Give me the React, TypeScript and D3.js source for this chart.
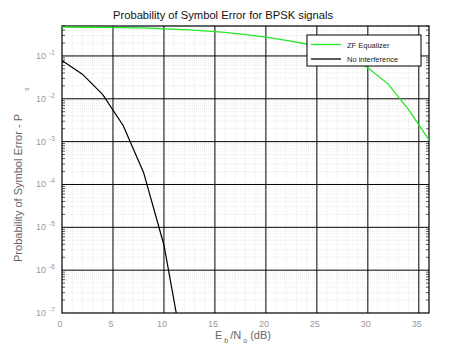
import React, { useRef, useEffect } from 'react';
import * as d3 from 'd3';

// Eb/No in dB, 2 dB steps
const snrZF = [0, 2, 4, 6, 8, 10, 12, 14, 16, 18, 20, 22, 24, 26, 28, 30, 32, 34, 36];
const berZF = [0.47, 0.468, 0.465, 0.46, 0.45, 0.43, 0.41, 0.385, 0.355, 0.315, 0.275, 0.23, 0.19, 0.14, 0.095, 0.053, 0.022, 0.0056, 0.0011];

const snrNoInt = [0, 2, 4, 6, 8, 10, 12];
const berNoInt = [0.0786, 0.0375, 0.0125, 0.00239, 0.000191, 0.00000387, 0.000000009];

const xTicks = [0, 5, 10, 15, 20, 25, 30, 35];
const yExps = [-1, -2, -3, -4, -5, -6, -7];

const legendNames = ['ZF Equalizer', 'No interference'];
const lineColors = ['#22e822', '#000000'];

const App = () => {
  const svgRef = useRef<SVGSVGElement>(null);

  useEffect(() => {
    const svg = d3.select(svgRef.current);
    svg.selectAll('*').remove();

    const margin = { top: 26, right: 44, bottom: 41, left: 62 };
    const width = 473;
    const height = 354;
    const innerWidth = width - margin.left - margin.right;
    const innerHeight = height - margin.top - margin.bottom;
    const font = 'Liberation Sans, Arial, sans-serif';

    const x = d3.scaleLinear().domain([0, 36]).range([0, innerWidth]);
    const y = d3.scaleLog().domain([1e-7, 0.5]).range([innerHeight, 0]);

    svg.append('rect').attr('width', width).attr('height', height).attr('fill', '#fff');

    // title
    svg.append('text')
      .attr('x', 113).attr('y', 19)
      .attr('font-family', font).attr('font-size', 11.2)
      .attr('fill', '#111')
      .text('Probability of Symbol Error for BPSK signals');

    const g = svg.append('g').attr('transform', `translate(${margin.left},${margin.top})`);

    g.append('clipPath').attr('id', 'plotclip')
      .append('rect').attr('width', innerWidth).attr('height', innerHeight);

    // minor grid
    const minorX = d3.range(1, 36).filter(d => d % 5 !== 0);
    g.selectAll('.mx').data(minorX).join('line')
      .attr('x1', d => x(d)).attr('x2', d => x(d))
      .attr('y1', 0).attr('y2', innerHeight)
      .attr('stroke', '#dcdcdc').attr('stroke-width', 0.6).attr('stroke-dasharray', '1,1');

    const minorY: number[] = [];
    for (let e = -7; e <= -1; e++) {
      for (let m = 2; m <= 9; m++) {
        const v = m * Math.pow(10, e);
        if (v <= 0.5) minorY.push(v);
      }
    }
    g.selectAll('.my').data(minorY).join('line')
      .attr('x1', 0).attr('x2', innerWidth)
      .attr('y1', d => y(d)).attr('y2', d => y(d))
      .attr('stroke', '#dcdcdc').attr('stroke-width', 0.6).attr('stroke-dasharray', '1,1');

    // major grid
    g.selectAll('.gx').data(xTicks.filter(d => d > 0)).join('line')
      .attr('x1', d => x(d)).attr('x2', d => x(d))
      .attr('y1', 0).attr('y2', innerHeight)
      .attr('stroke', '#000').attr('stroke-width', 1);
    g.selectAll('.gy').data(yExps.filter(e => e > -7)).join('line')
      .attr('x1', 0).attr('x2', innerWidth)
      .attr('y1', e => y(Math.pow(10, e))).attr('y2', e => y(Math.pow(10, e)))
      .attr('stroke', '#000').attr('stroke-width', 1);

    // minor ticks on left and right edges
    g.selectAll('.tl').data(minorY).join('line')
      .attr('x1', 0).attr('x2', 3)
      .attr('y1', d => y(d)).attr('y2', d => y(d))
      .attr('stroke', '#333').attr('stroke-width', 0.8);
    g.selectAll('.tr').data(minorY).join('line')
      .attr('x1', innerWidth - 3).attr('x2', innerWidth)
      .attr('y1', d => y(d)).attr('y2', d => y(d))
      .attr('stroke', '#333').attr('stroke-width', 0.8);

    // frame
    g.append('rect').attr('width', innerWidth).attr('height', innerHeight)
      .attr('fill', 'none').attr('stroke', '#000').attr('stroke-width', 1.2);

    // curves
    const line = d3.line<[number, number]>()
      .x(d => x(d[0]))
      .y(d => y(d[1]));

    const plot = g.append('g').attr('clip-path', 'url(#plotclip)');
    plot.append('path')
      .datum(snrZF.map((s, i) => [s, berZF[i]] as [number, number]))
      .attr('fill', 'none').attr('stroke', lineColors[0]).attr('stroke-width', 1.3)
      .attr('d', line);
    plot.append('path')
      .datum(snrNoInt.map((s, i) => [s, berNoInt[i]] as [number, number]))
      .attr('fill', 'none').attr('stroke', lineColors[1]).attr('stroke-width', 1.2)
      .attr('d', line);

    // x tick labels
    g.selectAll('.xl').data(xTicks).join('text')
      .attr('x', d => x(d) - 2).attr('y', innerHeight + 14)
      .attr('text-anchor', 'middle')
      .attr('font-family', font).attr('font-size', 9).attr('fill', '#999')
      .text(d => d);

    // y tick labels
    const yl = g.selectAll('.yl').data(yExps).join('text')
      .attr('x', -26).attr('y', e => y(Math.pow(10, e)) + 3)
      .attr('font-family', font).attr('font-size', 9).attr('fill', '#999');
    yl.append('tspan').text('10');
    yl.append('tspan').attr('dx', 3).attr('dy', -4).attr('font-size', 6.5).text(e => e);

    // x axis label
    const xl = svg.append('text')
      .attr('x', 215).attr('y', 339)
      .attr('font-family', font).attr('font-size', 11).attr('fill', '#666');
    xl.append('tspan').text('E');
    xl.append('tspan').attr('dx', 2).attr('dy', 4).attr('font-size', 7).text('b');
    xl.append('tspan').attr('dx', 2).attr('dy', -4).text('/N');
    xl.append('tspan').attr('dx', 2).attr('dy', 4).attr('font-size', 7).text('o');
    xl.append('tspan').attr('dx', 3).attr('dy', -4).text('(dB)');

    // y axis label
    svg.append('text')
      .attr('transform', 'translate(22,188) rotate(-90)')
      .attr('text-anchor', 'middle')
      .attr('font-family', font).attr('font-size', 11).attr('fill', '#666')
      .text('Probability of Symbol Error - P');
    svg.append('text')
      .attr('transform', 'translate(29,89) rotate(-90)')
      .attr('text-anchor', 'middle')
      .attr('font-family', font).attr('font-size', 6.5).attr('fill', '#888')
      .text('s');

    // legend
    const lg = svg.append('g').attr('transform', 'translate(307,35)');
    lg.append('rect').attr('width', 114).attr('height', 31)
      .attr('fill', '#fff').attr('stroke', '#000').attr('stroke-width', 1);
    legendNames.forEach((name, i) => {
      const ly = 9.5 + i * 14.5;
      lg.append('line').attr('x1', 4).attr('x2', 34).attr('y1', ly).attr('y2', ly)
        .attr('stroke', lineColors[i]).attr('stroke-width', 1.3);
      lg.append('text').attr('x', 40).attr('y', ly + 3)
        .attr('font-family', font).attr('font-size', 7.5).attr('fill', '#222')
        .text(name);
    });
  }, []);

  return (
    <svg ref={svgRef} width="473" height="354" style={{ position: 'absolute', left: 0, top: 0 }}></svg>
  );
};

export default App;
